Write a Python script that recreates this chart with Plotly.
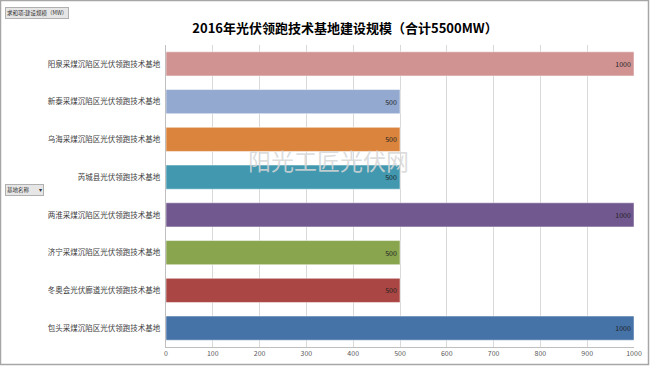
import plotly.graph_objects as go

categories = [
    "包头采煤沉陷区光伏领跑技术基地",
    "冬奥会光伏廊道光伏领跑技术基地",
    "济宁采煤沉陷区光伏领跑技术基地",
    "两淮采煤沉陷区光伏领跑技术基地",
    "芮城县光伏领跑技术基地",
    "乌海采煤沉陷区光伏领跑技术基地",
    "新泰采煤沉陷区光伏领跑技术基地",
    "阳泉采煤沉陷区光伏领跑技术基地",
]
values = [1000, 500, 500, 1000, 500, 500, 500, 1000]
colors = ["#4572a7", "#aa4643", "#89a54e", "#71588f", "#4198af", "#db843d", "#93a9cf", "#d19392"]
x_ticks = [0, 100, 200, 300, 400, 500, 600, 700, 800, 900, 1000]

W, H = 650, 366
L, R, T, B = 166, 16, 45, 19
pw, ph = W - L - R, H - T - B

def px(x):
    return (x - L) / pw

def py(y):
    return 1 - (y - T) / ph

font = "Noto Sans CJK SC, Noto Sans, sans-serif"

fig = go.Figure()
fig.add_trace(go.Bar(
    x=values, y=categories, orientation="h",
    marker=dict(color=colors, line=dict(color="rgba(255,255,255,0.5)", width=1)),
    width=0.64,
    text=[str(v) for v in values], textposition="inside", insidetextanchor="end",
    textfont=dict(size=7, color="#222222", family=font),
    cliponaxis=False,
))

fig.update_layout(
    width=W, height=H,
    margin=dict(l=L, r=R, t=T, b=B, autoexpand=False),
    paper_bgcolor="white", plot_bgcolor="white",
    showlegend=False,
    font=dict(family=font),
    title=dict(
        text="<b>2016年光伏领跑技术基地建设规模（合计5500MW）</b>",
        x=345 / W, xref="container", xanchor="center",
        y=1 - 28 / H, yref="container", yanchor="middle",
        font=dict(size=13, color="#000000", family=font),
    ),
    xaxis=dict(
        range=[0, 1000], tickvals=x_ticks, showgrid=True, gridcolor="#d9d9d9", gridwidth=1,
        zeroline=False, showline=True, linecolor="#bfbfbf",
        ticks="", tickfont=dict(size=7, color="#595959"),
        fixedrange=True,
    ),
    yaxis=dict(
        categoryorder="array", categoryarray=categories,
        showgrid=False, zeroline=False, showline=True, linecolor="#bfbfbf",
        ticks="", ticklen=0, tickfont=dict(size=7.5, color="#404040"),
        ticksuffix="  ",
        fixedrange=True,
    ),
    bargap=0.36,
)

shapes = []
# outer frame
shapes.append(dict(type="rect", xref="paper", yref="paper",
                   x0=px(0.5), x1=px(W - 1.5), y0=py(H - 1.5), y1=py(0.5),
                   line=dict(color="#a6a6a6", width=1.5), fillcolor="rgba(0,0,0,0)", layer="below"))
fig.update_layout(shapes=shapes)

annotations = [
    dict(text="阳光工匠光伏网", x=px(328), y=py(160), xref="paper", yref="paper",
         showarrow=False, font=dict(size=23, color="rgba(215,215,215,0.85)", family=font)),
    dict(text="求和项:建设规模（MW）", x=px(5), y=py(13), xref="paper", yref="paper",
         xanchor="left", yanchor="middle", showarrow=False,
         font=dict(size=5.5, color="#333333", family=font),
         bgcolor="#e6e6e6", bordercolor="#b0b0b0", borderwidth=1, borderpad=1),
    dict(text="基地名称        ▾", x=px(5), y=py(190), xref="paper", yref="paper",
         xanchor="left", yanchor="middle", showarrow=False,
         font=dict(size=5.5, color="#333333", family=font),
         bgcolor="#e6e6e6", bordercolor="#b0b0b0", borderwidth=1, borderpad=1),
]
fig.update_layout(annotations=annotations)

fig.write_html(
    "out.html",
    config={"displayModeBar": False},
    post_script="document.body.style.margin='0';document.body.style.padding='0';document.body.style.overflow='hidden';",
)
